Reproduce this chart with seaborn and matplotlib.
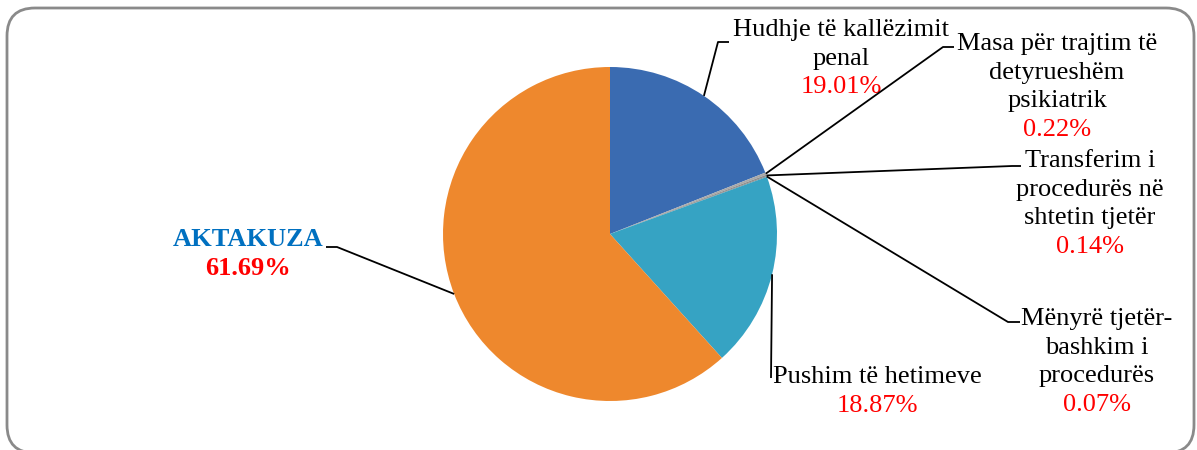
import numpy as np
import matplotlib
matplotlib.use("Agg")
import matplotlib.pyplot as plt
import seaborn as sns
from matplotlib.patches import FancyBboxPatch

sns.set_theme(style="white")
plt.rcParams['font.family'] = ['Liberation Serif', 'DejaVu Serif']

# data
labels = ["Hudhje të kallëzimit\npenal",
          "Masa për trajtim të\ndetyrueshëm\npsikiatrik",
          "Transferim i\nprocedurës në\nshtetin tjetër",
          "Mënyrë tjetër-\nbashkim i\nprocedurës",
          "Pushim të hetimeve",
          "AKTAKUZA"]
values = [19.01, 0.22, 0.14, 0.07, 18.87, 61.69]
colors = ["#3A6BB1", "#A9A9A9", "#8C8C8C", "#7A7A7A", "#36A3C3", "#EE882D"]

W, H = 1197, 450
fig = plt.figure(figsize=(W / 100, H / 100), dpi=100)
ax = fig.add_axes([0, 0, 1, 1])

def py(y):
    return H - y

cx, cy, R = 610, py(234), 167
wedges, _ = ax.pie(values, colors=colors, startangle=90, counterclock=False,
                   center=(cx, cy), radius=R,
                   wedgeprops=dict(edgecolor="none"))

# label layout (pixel coords, y from top): text center x, first line y, elbow, end
layout = [
    dict(tx=841, ty=30, elbow=(718, 42), end=(729, 42)),
    dict(tx=1057, ty=44, elbow=(943, 47), end=(954, 47)),
    dict(tx=1090, ty=161, elbow=(1012, 166), end=(1021, 166)),
    dict(tx=1097, ty=319, elbow=(1008, 322), end=(1020, 322)),
    dict(tx=877, ty=377, elbow=(771, 378), end=(771, 378)),
    dict(tx=248, ty=240, elbow=(337, 247), end=(326, 247)),
]

pitch = 28.6
fs = 19
for w, lab, v, lo in zip(wedges, labels, values, layout):
    mid = np.deg2rad((w.theta1 + w.theta2) / 2)
    x0, y0 = cx + R * np.cos(mid), cy + R * np.sin(mid)
    ex, ey = lo["elbow"]
    fx, fy = lo["end"]
    ax.plot([x0, ex, fx], [y0, py(ey), py(fy)], color="black", lw=1.3,
            solid_capstyle="butt", zorder=3)
    lines = lab.split("\n")
    bold = lab == "AKTAKUZA"
    for i, ln in enumerate(lines):
        ax.text(lo["tx"], py(lo["ty"] + i * pitch), ln, ha="center", va="center",
                fontsize=fs, color="#0070C0" if bold else "black",
                fontweight="bold" if bold else "normal")
    ax.text(lo["tx"], py(lo["ty"] + len(lines) * pitch), f"{v:.2f}%",
            ha="center", va="center", fontsize=fs, color="#FF0000",
            fontweight="bold" if bold else "normal")

# rounded frame
frame = FancyBboxPatch((7, py(453)), 1187, 445,
                       boxstyle="round,pad=0,rounding_size=28",
                       facecolor="none", edgecolor="#8A8A8A", lw=2, zorder=0)
ax.add_patch(frame)

ax.set_xlim(0, W)
ax.set_ylim(0, H)
ax.set_aspect("auto")
ax.axis("off")

fig.savefig("out.png", dpi=100)
